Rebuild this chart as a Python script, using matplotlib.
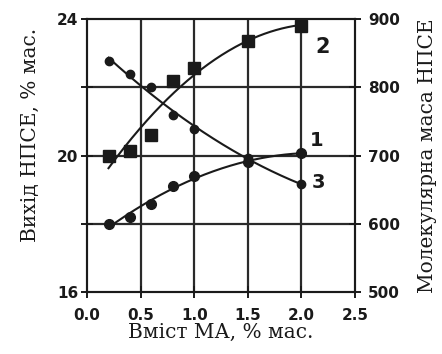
import numpy as np
import matplotlib
matplotlib.use('Agg')
import matplotlib.pyplot as plt

# Data
ma_content = [0.2, 0.4, 0.6, 0.8, 1.0, 1.5, 2.0]          # Вміст МА, % мас.
yield_1 = [18.0, 18.19, 18.58, 19.12, 19.41, 19.80, 20.07]  # curve 1 (left axis)
yield_2 = [20.0, 20.13, 20.59, 22.19, 22.57, 23.35, 23.79]  # curve 2 (left axis)
mol_mass_3 = [838, 820, 800, 759, 739, 697, 658]            # curve 3 (right axis)

x_ticks = [0.0, 0.5, 1.0, 1.5, 2.0, 2.5]
x_tick_labels = ['0.0', '0.5', '1.0', '1.5', '2.0', '2.5']
left_ticks = [16, 18, 20, 22, 24]
left_tick_labels = ['16', '', '20', '', '24']
right_ticks = [500, 600, 700, 800, 900]
right_tick_labels = ['500', '600', '700', '800', '900']

sans = 'DejaVu Sans'
serif = 'DejaVu Serif'
ink = '#1a1a1a'

fig = plt.figure(figsize=(4.42, 3.54), dpi=100)
ax = fig.add_axes([0.197, 0.175, 0.606, 0.771])
ax2 = ax.twinx()

ax.set_xlim(0, 2.5)
ax.set_ylim(16, 24)
ax2.set_ylim(500, 900)

# grid
for xv in x_ticks[1:-1]:
    ax.axvline(xv, color='#2a2a2a', lw=1.6, zorder=1)
for yv in left_ticks[1:-1]:
    ax.axhline(yv, color='#2a2a2a', lw=1.6, zorder=1)

xs = np.array(ma_content)
xf = np.linspace(xs[0], xs[-1], 200)

c1 = np.polyfit(xs, yield_1, 2)
c2 = np.polyfit(xs, yield_2, 2)
c3 = np.polyfit(xs, mol_mass_3, 2)

ax.plot(xf, np.polyval(c1, xf), color=ink, lw=1.5, zorder=3)
ax.plot(xs, yield_1, 'o', color=ink, ms=7, zorder=4)
ax.plot(xf, np.polyval(c2, xf), color=ink, lw=1.5, zorder=3)
ax.plot(xs, yield_2, 's', color=ink, ms=8.5, zorder=4)
ax2.plot(xf, np.polyval(c3, xf), color=ink, lw=1.5, zorder=3)
ax2.plot(xs, mol_mass_3, 'o', color=ink, ms=6, zorder=4)

ax.text(2.13, 23.18, '2', fontfamily=sans, fontweight='bold', fontsize=15,
        ha='left', va='center', color=ink)
ax.text(2.075, 20.45, '1', fontfamily=sans, fontweight='bold', fontsize=14,
        ha='left', va='center', color=ink)
ax.text(2.10, 19.22, '3', fontfamily=sans, fontweight='bold', fontsize=14,
        ha='left', va='center', color=ink)

ax.set_xticks(x_ticks)
ax.set_xticklabels(x_tick_labels, fontfamily=sans, fontsize=11, fontweight='bold')
ax.set_yticks(left_ticks)
ax.set_yticklabels(left_tick_labels, fontfamily=sans, fontsize=11, fontweight='bold')
ax2.set_yticks(right_ticks)
ax2.set_yticklabels(right_tick_labels, fontfamily=sans, fontsize=11, fontweight='bold')

for a in (ax, ax2):
    a.tick_params(direction='inout', length=8.5, width=1.4, colors=ink)
    for s in a.spines.values():
        s.set_linewidth(1.5)
        s.set_color(ink)
ax.tick_params(axis='x', pad=7.5)
ax.tick_params(axis='y', pad=2)
ax2.tick_params(axis='y', pad=5)

ax.set_xlabel('Вміст МА, % мас.', fontfamily=serif, fontsize=14.5, labelpad=0, color=ink)
ax.set_ylabel('Вихід НПСЕ, % мас.', fontfamily=serif, fontsize=14.5, labelpad=12, color=ink)
ax.yaxis.label.set_y(0.575)
ax2.set_ylabel('Молекулярна маса НПСЕ', fontfamily=serif, fontsize=14.5, labelpad=13,
               rotation=90, color=ink)

fig.savefig('out.png', dpi=100)
